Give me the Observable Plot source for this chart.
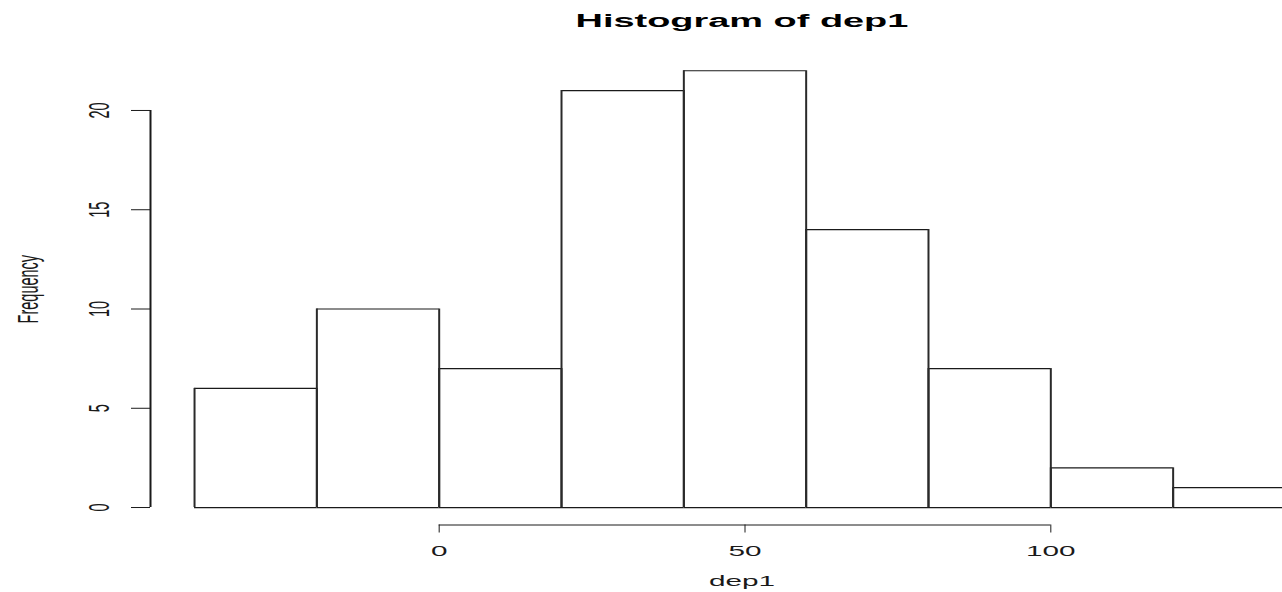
<!DOCTYPE html>
<html>
<head>
<meta charset="utf-8">
<script src="https://cdn.jsdelivr.net/npm/d3@7"></script>
<script src="https://cdn.jsdelivr.net/npm/@observablehq/plot@0.6"></script>
<style>
  html, body { margin: 0; padding: 0; background: #fff; overflow: hidden; }
</style>
</head>
<body>
<div id="chart"></div>
<script>
// ---- data ----
const breaks = [-40, -20, 0, 20, 40, 60, 80, 100, 120, 140];
const counts = [6, 10, 7, 21, 22, 14, 7, 2, 1];
const xTicks = [0, 50, 100];
const yTicks = [0, 5, 10, 15, 20];
const titleText = "Histogram of dep1";
const xLabel = "dep1";
const yLabel = "Frequency";

const bins = counts.map((c, i) => ({x1: breaks[i], x2: breaks[i + 1], count: c}));

const xDomain = [-47.2, 147.2];
const yDomain = [-0.88, 22.88];
const xMid = (xDomain[0] + xDomain[1]) / 2 - 0.5;

const ink = "#1a1a1a";
const fs = 14.5;

const yTickMark = Plot.axisTickY
  ? Plot.axisTickY(yTicks, {anchor: "left", tickSize: 19, stroke: ink})
  : Plot.axisY({ticks: yTicks, anchor: "left", tickSize: 19, tickFormat: () => "", label: null});
const xTickMark = Plot.axisTickX
  ? Plot.axisTickX(xTicks, {anchor: "bottom", tickSize: 8, stroke: ink})
  : Plot.axisX({ticks: xTicks, anchor: "bottom", tickSize: 8, tickFormat: () => "", label: null});

const chart = Plot.plot({
  width: 1282,
  height: 592,
  marginLeft: 150,
  marginRight: 0,
  marginTop: 52.8,
  marginBottom: 67.5,
  style: {fontFamily: "'Liberation Sans', Arial, Helvetica, sans-serif", background: "#fff", color: ink},
  x: {domain: xDomain, range: [150, 1339], axis: null},
  y: {domain: yDomain, axis: null},
  marks: [
    // bars
    Plot.rect(bins, {x1: "x1", x2: "x2", y1: 0, y2: "count", fill: "white", clip: true}),
    Plot.ruleY(bins, {x1: "x1", x2: "x2", y: "count", stroke: ink, strokeWidth: 1.2, clip: true}),
    Plot.ruleY(bins, {x1: "x1", x2: "x2", y: 0, stroke: ink, strokeWidth: 1.2, clip: true}),
    Plot.ruleX(bins, {x: "x1", y1: 0, y2: "count", stroke: "#2a2a2a", strokeWidth: 2, clip: true}),
    Plot.ruleX(bins, {x: "x2", y1: 0, y2: "count", stroke: "#2a2a2a", strokeWidth: 2, clip: true}),
    // y axis
    Plot.ruleX([xDomain[0]], {y1: yTicks[0], y2: yTicks[yTicks.length - 1], stroke: ink, strokeWidth: 2}),
    yTickMark,
    Plot.text(yTicks, {y: d => d, text: d => String(d), frameAnchor: "left", rotate: -90, dx: -51,
      textAnchor: "middle", lineAnchor: "middle", fontSize: fs, fill: ink, ariaLabel: "ylabels"}),
    // x axis
    Plot.ruleY([yDomain[0]], {x1: xTicks[0], x2: xTicks[xTicks.length - 1], stroke: ink, strokeWidth: 1}),
    xTickMark,
    Plot.text(xTicks, {x: d => d, text: d => String(d), frameAnchor: "bottom", dy: 26,
      textAnchor: "middle", lineAnchor: "middle", fontSize: fs, fill: ink, ariaLabel: "xlabels"}),
    // axis titles
    Plot.text([xLabel], {x: () => xMid, text: d => d, frameAnchor: "bottom", dy: 56.5,
      textAnchor: "middle", lineAnchor: "middle", fontSize: fs, fill: ink, ariaLabel: "xtitle"}),
    Plot.text([yLabel], {text: d => d, frameAnchor: "left", rotate: -90, dx: -122,
      textAnchor: "middle", lineAnchor: "middle", fontSize: fs, fill: ink, ariaLabel: "ytitle"}),
    // main title
    Plot.text([titleText], {x: () => xMid, text: d => d, frameAnchor: "top", dy: -32.5,
      textAnchor: "middle", lineAnchor: "middle", fontSize: 18.5, fontWeight: "bold", fill: "#000", ariaLabel: "title"})
  ]
});

// R device was stretched horizontally: widen glyphs in screen x
d3.select(chart).selectAll("text").each(function () {
  const t = this.getAttribute("transform") || "";
  const g = this.closest("g[aria-label]");
  const isTitle = g && g.getAttribute("aria-label") === "title";
  const s = isTitle ? 2.23 : 2.05;
  if (/rotate/.test(t)) this.setAttribute("transform", t + ` scale(1,${s})`);
  else this.setAttribute("transform", t + ` scale(${s},1)`);
});

document.getElementById("chart").appendChild(chart);
</script>
</body>
</html>
